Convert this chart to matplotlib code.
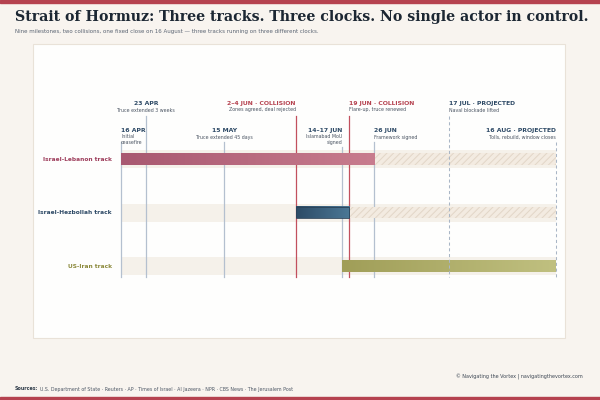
import matplotlib
matplotlib.use("Agg")
import matplotlib.pyplot as plt
import matplotlib.dates as mdates
import numpy as np
from matplotlib.colors import LinearSegmentedColormap
from matplotlib.patches import Rectangle
import datetime as dt

# ---------------- data ----------------
tracks = ["Israel-Lebanon track", "Israel-Hezbollah track", "US-Iran track"]
track_colors = ["#9e3e5c", "#2e4a66", "#8c8a3c"]
solid_start = ["2025-04-16", "2025-06-04", "2025-06-17"]
solid_end = ["2025-06-26", "2025-06-19", "2025-08-16"]
hatch_start = ["2025-06-26", "2025-06-19", None]
hatch_end = ["2025-08-16", "2025-08-16", None]
grad_left = ["#a85870", "#2c4b66", "#a09e58"]
grad_right = ["#c87c8e", "#4c7896", "#c0c080"]

milestone_dates = ["2025-04-16", "2025-04-23", "2025-05-15", "2025-06-04", "2025-06-17",
                   "2025-06-19", "2025-06-26", "2025-07-17", "2025-08-16"]
milestone_titles = ["16 APR", "23 APR", "15 MAY", "2–4 JUN · COLLISION", "14–17 JUN",
                    "19 JUN · COLLISION", "26 JUN", "17 JUL · PROJECTED", "16 AUG · PROJECTED"]
milestone_notes = ["Initial\nceasefire", "Truce extended 3 weeks", "Truce extended 45 days",
                   "Zones agreed, deal rejected", "Islamabad MoU\nsigned",
                   "Flare-up, truce renewed", "Framework signed", "Naval blockade lifted",
                   "Tolls, rebuild, window closes"]
milestone_kind = ["event", "event", "event", "collision", "event", "collision", "event",
                  "projected", "projected"]
milestone_row = [1, 0, 1, 0, 1, 0, 1, 0, 1]
milestone_align = ["left", "center", "center", "right", "right", "left", "left", "left", "right"]

# ---------------- style ----------------
BG = "#f8f4ef"
PANEL = "#fefefd"
BAND = "#f5f1ea"
RED = "#b5424f"
NAVY = "#2e4a66"
LINE_GREY = "#b4c0cf"
plt.rcParams["hatch.linewidth"] = 0.7

W, H = 600, 400
fig = plt.figure(figsize=(6, 4), dpi=100, facecolor=BG)

def fx(px):
    return px / W

def fy(py):
    return 1 - py / H

# stripes
fig.patches.append(Rectangle((0, fy(3)), 1, 3 / H, transform=fig.transFigure, color=RED, zorder=0))
fig.patches.append(Rectangle((0, 0), 1, 3 / H, transform=fig.transFigure, color=RED, zorder=0))
# panel
fig.patches.append(Rectangle((fx(33), fy(338)), (565 - 33) / W, (338 - 44) / H,
                             transform=fig.transFigure, facecolor=PANEL,
                             edgecolor="#e9e2d8", lw=0.8, zorder=0))

fig.text(fx(15), fy(17), "Strait of Hormuz: Three tracks. Three clocks. No single actor in control.",
         family="DejaVu Serif", weight="bold", fontsize=10.2, color="#1c2733", va="center", ha="left")
fig.text(fx(15), fy(32), "Nine milestones, two collisions, one fixed close on 16 August — three tracks running on three different clocks.",
         fontsize=4.0, color="#5a6472", va="center", ha="left")

fig.text(fx(583), fy(377), "© Navigating the Vortex | navigatingthevortex.com",
         fontsize=3.5, color="#3c4653", ha="right", va="center")
src = fig.text(fx(15), fy(389), "Sources:", fontsize=3.4, weight="bold", color="#2e3a48", ha="left", va="center")
fig.canvas.draw()
bb = src.get_window_extent(renderer=fig.canvas.get_renderer())
fig.text(bb.x1 / W + fx(1.5), fy(389), "U.S. Department of State · Reuters · AP · Times of Israel · Al Jazeera · NPR · CBS News · The Jerusalem Post",
         fontsize=3.4, color="#4e5866", ha="left", va="center")

# ---------------- axes ----------------
x0 = mdates.date2num(dt.date(2025, 4, 16))
x1 = mdates.date2num(dt.date(2025, 8, 16))
ax_left_px, ax_right_px = 121, 556
ax_top_px, ax_bot_px = 95, 285
ax = fig.add_axes([fx(ax_left_px), fy(ax_bot_px), (ax_right_px - ax_left_px) / W, (ax_bot_px - ax_top_px) / H])
ax.set_zorder(5)
spacing = 53.5
c0 = 159
ax.axis("off")
ax.patch.set_alpha(0)

def py2y(py):
    return (py - c0) / spacing

def d(s):
    return mdates.date2num(dt.date.fromisoformat(s))

band_h = 18 / spacing
bar_h = 11.5 / spacing

for i, name in enumerate(tracks):
    ax.add_patch(Rectangle((x0, i - band_h / 2), x1 - x0, band_h, facecolor=BAND, edgecolor="none", zorder=1))
    s, e = d(solid_start[i]), d(solid_end[i])
    cmap = LinearSegmentedColormap.from_list("g", [grad_left[i], grad_right[i]])
    grad = np.linspace(0, 1, 256).reshape(1, -1)
    ax.imshow(grad, cmap=cmap, aspect="auto", extent=(s, e, i + bar_h / 2, i - bar_h / 2),
              zorder=4, interpolation="bilinear")
    if i == 1:
        ax.add_patch(Rectangle((s, i - bar_h / 2), e - s, bar_h, facecolor="none",
                               edgecolor="#2a4258", lw=0.6, zorder=5))
    if hatch_start[i]:
        hs, he = d(hatch_start[i]), d(hatch_end[i])
        ax.add_patch(Rectangle((hs, i - bar_h / 2), he - hs, bar_h, facecolor="#f3ebe1",
                               edgecolor="#e2d6c7", hatch="/////", lw=0, zorder=3))
    ax.text(x0 - 2.5, i, name, ha="right", va="center", fontsize=4.2, weight="bold",
            color=track_colors[i], clip_on=False)

# milestones
row_title_py = [103, 130]
row_note_py = [110, 137]
row_line_top = [116, 142]
for k, ds in enumerate(milestone_dates):
    x = d(ds)
    r = milestone_row[k]
    kind = milestone_kind[k]
    top = row_line_top[r]
    if k == 4:
        top = 147
    if kind == "collision":
        ax.plot([x, x], [py2y(top), py2y(277)], color="#c2505e", lw=0.9, zorder=2, clip_on=False)
        tcol = RED
    elif kind == "projected":
        ax.plot([x, x], [py2y(top), py2y(277)], color="#a9b6c6", lw=0.75, ls=(0, (3, 2.5)),
                zorder=6, clip_on=False)
        tcol = NAVY
    else:
        ax.plot([x, x], [py2y(top), py2y(277)], color=LINE_GREY, lw=0.9, zorder=2, clip_on=False)
        tcol = NAVY
    al = milestone_align[k]
    ax.text(x, py2y(row_title_py[r]), milestone_titles[k], ha=al, va="center", fontsize=4.4,
            weight="bold", color=tcol, clip_on=False)
    ax.text(x, py2y(row_note_py[r] - 2.5), milestone_notes[k], ha=al, va="top", fontsize=3.4,
            color="#4a5462", clip_on=False, linespacing=1.15, multialignment=al)

ax.set_xlim(x0, x1)
ax.set_ylim(py2y(ax_bot_px), py2y(ax_top_px))

fig.savefig("out.png", dpi=100, facecolor=BG)
